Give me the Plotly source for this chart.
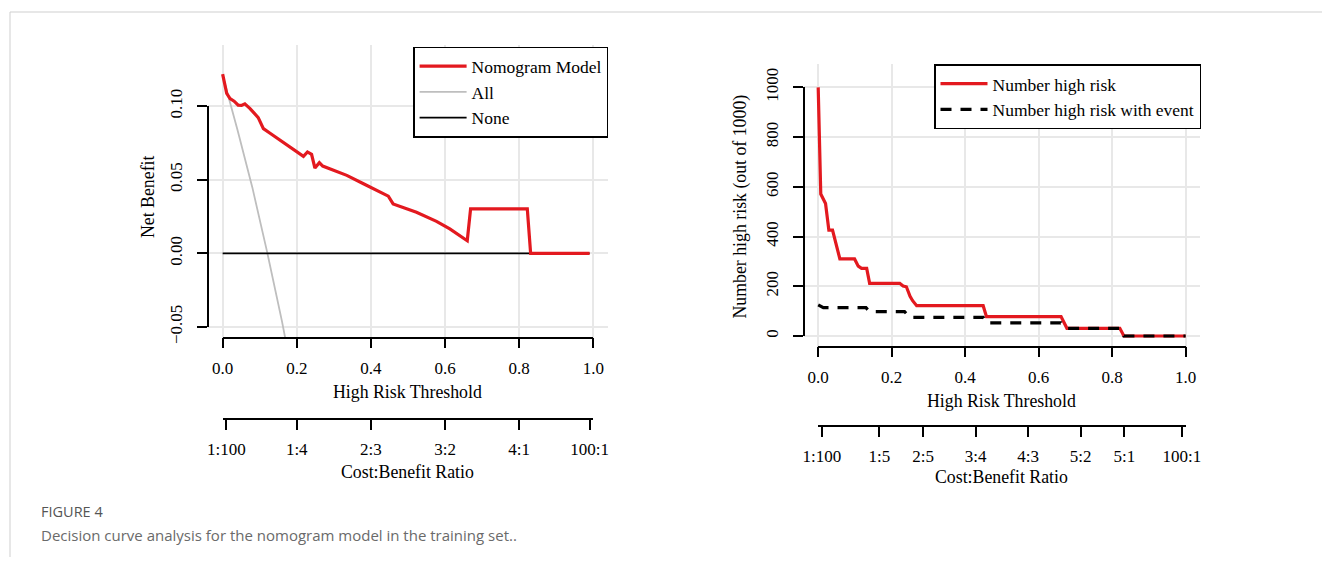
import plotly.graph_objects as go

W, H = 1322, 564

# ---------------- data ----------------
# Left panel: decision curve (net benefit)
nb_threshold = [0.000, 0.011, 0.020, 0.031, 0.042, 0.051, 0.060, 0.074, 0.096, 0.110,
                0.128, 0.218, 0.229, 0.240, 0.249, 0.261, 0.270, 0.335, 0.380, 0.447,
                0.460, 0.523, 0.577, 0.613, 0.660, 0.669, 0.822, 0.831, 0.990]
nb_model = [0.1218, 0.1087, 0.1052, 0.1034, 0.1007, 0.1005, 0.1016, 0.0984, 0.0923, 0.0848,
            0.0816, 0.0659, 0.0689, 0.0673, 0.0580, 0.0616, 0.0593, 0.0530, 0.0473, 0.0389,
            0.0336, 0.0280, 0.0218, 0.0166, 0.0086, 0.0302, 0.0302, 0.0000, 0.0000]
all_threshold = [0.00, 0.04, 0.08, 0.12, 0.16, 0.18]
all_nb = [0.121, 0.084, 0.045, 0.001, -0.046, -0.072]
none_threshold = [0.00, 0.99]
none_nb = [0.0, 0.0]

# Right panel: clinical impact curve
hr_threshold = [0.000, 0.007, 0.020, 0.029, 0.039, 0.059, 0.099, 0.109, 0.118, 0.132,
                0.140, 0.222, 0.231, 0.240, 0.250, 0.257, 0.268, 0.449, 0.458, 0.661,
                0.677, 0.821, 0.832, 1.000]
hr_number = [1000, 571, 533, 426, 426, 310, 310, 281, 272, 272,
             212, 212, 201, 198, 160, 142, 122, 122, 78, 78,
             31, 31, 0, 0]
ev_threshold = [0.000, 0.014, 0.130, 0.140, 0.235, 0.250, 0.449, 0.458, 0.661, 0.677,
                0.821, 0.832, 1.000]
ev_number = [125, 114, 114, 98, 98, 75, 75, 53, 53, 31, 31, 0, 0]

# tick labels
thr_ticks = [0.0, 0.2, 0.4, 0.6, 0.8, 1.0]
thr_ticktext = ["0.0", "0.2", "0.4", "0.6", "0.8", "1.0"]
nb_ticks = [-0.05, 0.0, 0.05, 0.10]
nb_ticktext = ["\u22120.05", "0.00", "0.05", "0.10"]
num_ticks = [0, 200, 400, 600, 800, 1000]
num_ticktext = ["0", "200", "400", "600", "800", "1000"]
left_cb = [(1, 100), (1, 4), (2, 3), (3, 2), (4, 1), (100, 1)]
right_cb = [(1, 100), (1, 5), (2, 5), (3, 4), (4, 3), (5, 2), (5, 1), (100, 1)]

# ---------------- styling / layout helpers ----------------
RED = "#E3191F"
SERIF = "Liberation Serif"
FS_TICK = 17
FS_TITLE = 17.8
FS_LEG = 17.5
GRID = "#e8e8e8"


def cb_pos(pairs):
    return [a / (a + b) for a, b in pairs]


def cb_text(pairs):
    return [f"{a}:{b}" for a, b in pairs]


# plot regions in pixels (left, right, top, bottom) and data ranges
L = dict(x0=207.8, x1=608.1, y0=45.0, y1=337.7, xr=[-0.04, 1.04], yr=[-0.0573, 0.1416])
R = dict(x0=803.5, x1=1200.3, y0=64.0, y1=346.7, xr=[-0.04, 1.04], yr=[-43.0, 1094.0])


def xpix(reg, v):
    r0, r1 = reg["xr"]
    return reg["x0"] + (v - r0) / (r1 - r0) * (reg["x1"] - reg["x0"])


def ypix(reg, v):
    r0, r1 = reg["yr"]
    return reg["y1"] - (v - r0) / (r1 - r0) * (reg["y1"] - reg["y0"])


def xdom(reg, a, b):
    return [xpix(reg, a) / W, xpix(reg, b) / W]


def ydom(reg, a, b):
    return [1 - ypix(reg, a) / H, 1 - ypix(reg, b) / H]


tickfont = dict(family=SERIF, size=FS_TICK, color="black")


def grid_axis(domain, rng, tickvals, anchor):
    return dict(domain=domain, range=rng, tickvals=tickvals, anchor=anchor,
                showgrid=True, gridcolor=GRID, gridwidth=1.5, zeroline=False,
                showline=False, ticks="", showticklabels=False, fixedrange=True,
                automargin=False)


def tick_axis(domain, rng, tickvals, ticktext, position, angle=0, standoff=6):
    return dict(domain=domain, range=rng, anchor="free", position=position,
                showline=True, linecolor="black", linewidth=1.5,
                ticks="outside", ticklen=10, tickwidth=1.5, tickcolor="black",
                tickvals=tickvals, ticktext=ticktext, tickfont=tickfont,
                tickangle=angle, ticklabelstandoff=standoff,
                showgrid=False, zeroline=False, fixedrange=True, automargin=False)


fig = go.Figure()

# ---- left panel traces ----
fig.add_trace(go.Scatter(x=all_threshold, y=all_nb, mode="lines", name="All",
                         line=dict(color="#BEBEBE", width=1.8), legendrank=2,
                         xaxis="x", yaxis="y", legend="legend"))
fig.add_trace(go.Scatter(x=none_threshold, y=none_nb, mode="lines", name="None",
                         line=dict(color="black", width=1.6), legendrank=3,
                         xaxis="x", yaxis="y", legend="legend"))
fig.add_trace(go.Scatter(x=nb_threshold, y=nb_model, mode="lines", name="Nomogram Model",
                         line=dict(color=RED, width=3.2), legendrank=1,
                         xaxis="x", yaxis="y", legend="legend"))

# ---- right panel traces ----
fig.add_trace(go.Scatter(x=hr_threshold, y=hr_number, mode="lines", name="Number high risk",
                         line=dict(color=RED, width=3.2), legendrank=1,
                         xaxis="x4", yaxis="y2", legend="legend2"))
fig.add_trace(go.Scatter(x=ev_threshold, y=ev_number, mode="lines",
                         name="Number high risk with event",
                         line=dict(color="black", width=3.2, dash="11px,9px"), legendrank=2,
                         xaxis="x4", yaxis="y2", legend="legend2"))

# invisible helpers so that the tick-only axes are drawn (paired with each other: no grids)
for xa, ya in [("x2", "y3"), ("x3", "y3"), ("x5", "y4"), ("x6", "y4")]:
    fig.add_trace(go.Scatter(x=[None], y=[None], mode="lines", showlegend=False,
                             hoverinfo="skip", xaxis=xa, yaxis=ya))

layout = dict(
    width=W, height=H,
    margin=dict(l=0, r=0, t=0, b=0, pad=0, autoexpand=False),
    paper_bgcolor="white", plot_bgcolor="rgba(0,0,0,0)",
    showlegend=True,
    # left grid axes
    xaxis=grid_axis([L["x0"] / W, L["x1"] / W], L["xr"], thr_ticks, "y"),
    yaxis=grid_axis([1 - L["y1"] / H, 1 - L["y0"] / H], L["yr"], nb_ticks, "x"),
    # left tick axes
    xaxis2=tick_axis(xdom(L, 0, 1), [0, 1], thr_ticks, thr_ticktext, 1 - L["y1"] / H, standoff=5),
    xaxis3=tick_axis(xdom(L, 0, 1), [0, 1], cb_pos(left_cb), cb_text(left_cb), 1 - 419.0 / H, standoff=5),
    yaxis3=tick_axis(ydom(L, -0.05, 0.10), [-0.05, 0.10], nb_ticks, nb_ticktext, L["x0"] / W,
                     angle=-90, standoff=8),
    # right grid axes
    xaxis4=grid_axis([R["x0"] / W, R["x1"] / W], R["xr"], thr_ticks, "y2"),
    yaxis2=grid_axis([1 - R["y1"] / H, 1 - R["y0"] / H], R["yr"], num_ticks, "x4"),
    # right tick axes
    xaxis5=tick_axis(xdom(R, 0, 1), [0, 1], thr_ticks, thr_ticktext, 1 - R["y1"] / H, standoff=5),
    xaxis6=tick_axis(xdom(R, 0, 1), [0, 1], cb_pos(right_cb), cb_text(right_cb), 1 - 426.0 / H, standoff=5),
    yaxis4=tick_axis(ydom(R, 0, 1000), [0, 1000], num_ticks, num_ticktext, R["x0"] / W,
                     angle=-90, standoff=8),
    legend=dict(x=L["x1"] / W, xanchor="right", y=1 - 46.7 / H, yanchor="top",
                bgcolor="white", bordercolor="black", borderwidth=1.5,
                font=dict(family=SERIF, size=FS_LEG, color="black"),
                itemwidth=47, tracegroupgap=0),
    legend2=dict(x=1201.0 / W, xanchor="right", y=1 - 64.3 / H, yanchor="top",
                 bgcolor="white", bordercolor="black", borderwidth=1.5,
                 font=dict(family=SERIF, size=FS_LEG, color="black"),
                 itemwidth=47, tracegroupgap=0),
)
fig.update_layout(**layout)


def label(text, xp, yp, angle=0, size=FS_TITLE, family=SERIF, color="black", xanchor="center"):
    fig.add_annotation(text=text, x=xp / W, y=1 - yp / H, xref="paper", yref="paper",
                       showarrow=False, textangle=angle, xanchor=xanchor, yanchor="middle",
                       font=dict(family=family, size=size, color=color))


# axis titles
label("Net Benefit", 148, 197, angle=-90)
label("High Risk Threshold", xpix(L, 0.5), 392)
label("Cost:Benefit Ratio", xpix(L, 0.5), 471.5)
label("Number high risk (out of 1000)", 740, 206.5, angle=-90)
label("High Risk Threshold", xpix(R, 0.5), 401)
label("Cost:Benefit Ratio", xpix(R, 0.5), 477)

# caption
label("FIGURE 4", 39, 511, size=14.5, family="Open Sans", color="#555555", xanchor="left")
label("Decision curve analysis for the nomogram model in the training set..", 39, 534.5,
      size=15, family="Open Sans", color="#6a6a6a", xanchor="left")

# page frame lines
fig.add_shape(type="line", xref="paper", yref="paper", x0=10 / W, x1=1, y0=1 - 12 / H, y1=1 - 12 / H,
              line=dict(color="#cfcfcf", width=1))
fig.add_shape(type="line", xref="paper", yref="paper", x0=10 / W, x1=10 / W, y0=1 - 12 / H, y1=1 - 557 / H,
              line=dict(color="#cfcfcf", width=1))

fig.write_html("out.html")
